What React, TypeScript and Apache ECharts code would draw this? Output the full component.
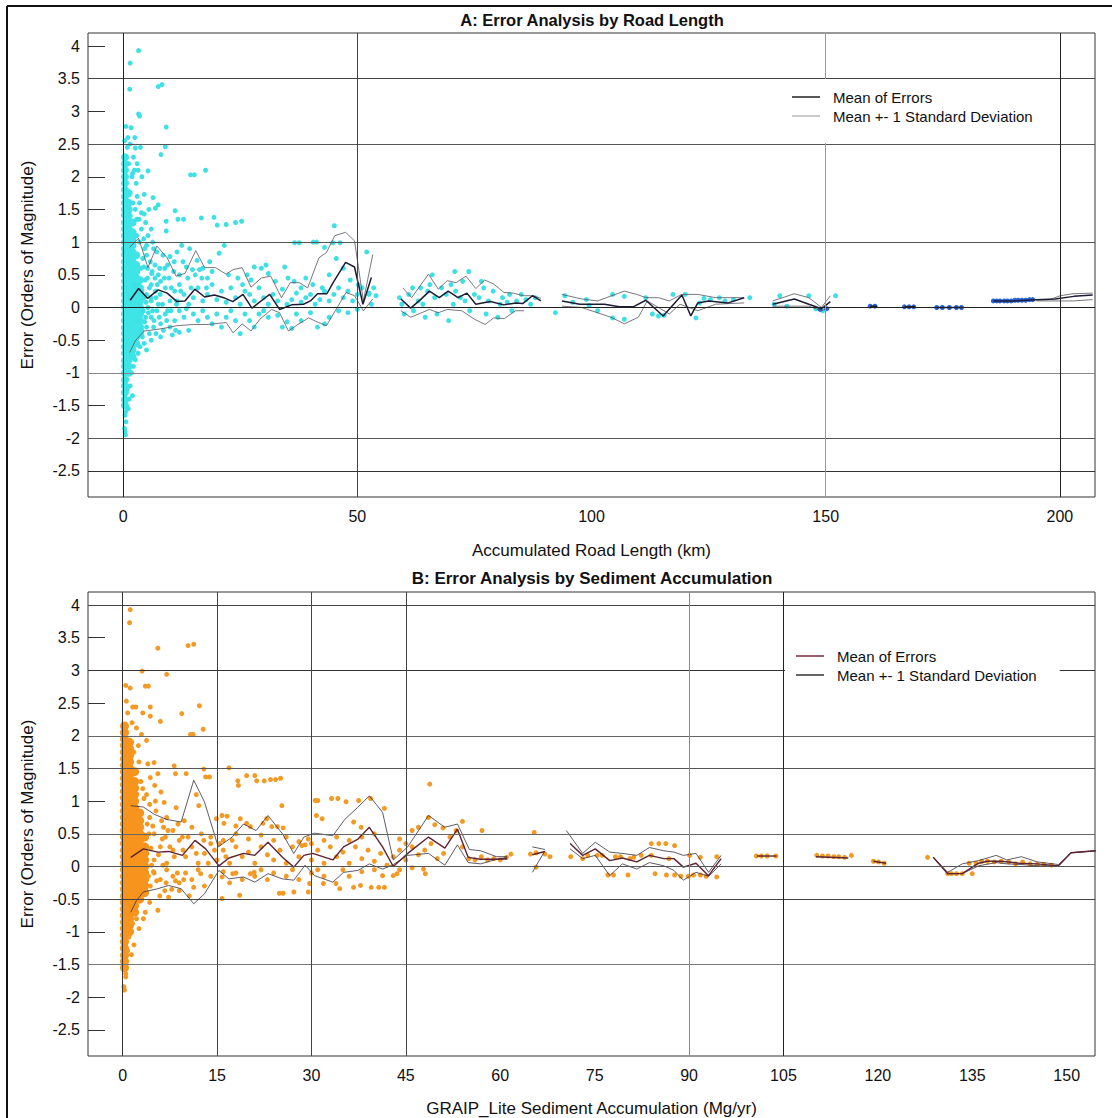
import React, { useEffect, useRef } from "react";
import * as echarts from "echarts";

const FONT = "'Liberation Sans', Arial, sans-serif";

// ---------- axes ----------
const xTicksA = [0, 50, 100, 150, 200];
const xTicksB = [0, 15, 30, 45, 60, 75, 90, 105, 120, 135, 150];
const yTicks = [-2.5, -2, -1.5, -1, -0.5, 0, 0.5, 1, 1.5, 2, 2.5, 3, 3.5, 4];

// reference lines drawn in each panel (axis values)
const hLinesA = [3.5, 2.5, 1, 0, -1, -2, -2.5];
const vLinesA = [0, 50, 150, 200];
const hLinesB = [4, 3, 2, 1.5, 0.5, 0, -0.5, -1.5];
const vLinesB = [0, 15, 30, 45, 90, 105];

// ---------- Panel A data (Accumulated road length km, error) ----------
const coreAX = [0.4, 1.2, 2.0, 2.8, 3.6];
const coreAY = [
  [-1.5, -1.41, -1.3, -1.2, -1.11, -1.0, -0.9, -0.81, -0.7, -0.6, -0.5, -0.4, -0.31, -0.2, -0.1, 0.0, 0.1, 0.2, 0.3, 0.4, 0.5, 0.6, 0.7, 0.81, 0.9, 1.0, 1.1, 1.2, 1.3, 1.41, 1.5, 1.6, 1.7, 1.8, 1.9, 2.0, 2.1, 2.2, 2.3],
  [-1.0, -0.9, -0.8, -0.7, -0.6, -0.5, -0.4, -0.3, -0.2, -0.1, 0.0, 0.1, 0.2, 0.3, 0.4, 0.5, 0.6, 0.7, 0.8, 0.9, 1.0, 1.1, 1.2, 1.3, 1.4, 1.5, 1.6, 1.75],
  [-0.75, -0.65, -0.55, -0.45, -0.35, -0.25, -0.15, -0.05, 0.05, 0.15, 0.25, 0.35, 0.45, 0.55, 0.65, 0.75, 0.85, 0.95, 1.05, 1.15, 1.3],
  [-0.55, -0.45, -0.35, -0.25, -0.15, -0.05, 0.05, 0.15, 0.25, 0.35, 0.45, 0.55, 0.65, 0.8],
  [-0.4, -0.3, -0.2, -0.1, 0.0, 0.1, 0.2, 0.3, 0.42],
];

const pointsA = [
  [1.5, 3.74], [3.3, 3.93], [1.4, 3.34], [3.3, 2.96], [3.5, 2.93], [0.6, 2.77], [1.7, 2.75], [7.5, 3.38], [8.3, 3.41],
  [9.2, 2.76], [9.0, 2.46], [8.1, 2.34], [1.5, 2.5], [3.7, 2.45], [2.6, 2.44], [5.3, 2.09], [14.4, 2.03], [15.2, 2.03],
  [17.6, 2.1], [4.5, 1.73], [6.4, 1.68], [7.5, 1.57], [11.1, 1.48], [11.7, 1.35], [12.9, 1.35], [16.7, 1.37], [19.4, 1.38],
  [20.1, 1.26], [22, 1.27], [24, 1.3], [25.3, 1.32], [45.1, 1.25], [4.5, 1.43], [9.2, 1.32], [9.2, 1.17], [6.9, 1.52],
  [3.0, 2.2], [2.2, 2.3], [4.0, 2.0], [2.8, 1.9], [3.5, 1.6], [5.5, 1.5], [4.8, 1.3], [6.0, 1.2], [3.2, 2.1], [2.5, 2.6],
  [1.0, 2.6], [1.2, 2.2], [0.9, 2.45], [0.3, 2.55], [2.0, 2.05], [3.0, 1.7], [3.9, 1.45], [2.9, 1.35],
  [3.5, 1.0], [5.0, 0.95], [6.5, 0.9], [7.2, 0.85], [8.5, 0.8], [10, 0.78], [11.5, 0.85], [12.5, 0.95], [14.2, 0.9],
  [15.8, 0.72], [17, 0.6], [18.5, 0.7], [20.5, 0.83], [21.6, 0.95], [4.2, 0.75], [5.8, 0.7], [7.8, 0.6], [9.5, 0.65],
  [10.8, 0.55], [12, 0.5], [13.5, 0.62], [14.8, 0.58], [16.3, 0.58], [18, 0.45], [19, 0.55], [22.5, 0.5], [24.5, 0.45],
  [26.5, 0.5], [28, 0.62], [29.5, 0.6], [30.5, 0.65], [25.5, 0.35], [27.3, 0.42], [31, 0.52], [32.5, 0.4], [34.5, 0.62],
  [36.6, 0.99], [37.6, 0.99], [40.6, 1.0], [41.3, 1.0], [43, 0.92], [44.8, 0.99], [46.3, 0.99], [35.2, 0.45], [36.5, 0.4],
  [38, 0.3], [39, 0.45], [40.5, 0.35], [42.5, 0.3], [44, 0.5], [45.5, 0.75], [47, 0.6], [48.5, 0.42], [50.2, 0.35],
  [52, 0.85], [53.5, 0.3], [52.5, 0.2], [54, 0.18], [7.5, 0.5], [6.2, 0.55], [8.8, 0.45], [5.2, 0.6],
  [3, 0.3], [4, 0.25], [5, 0.2], [6, 0.35], [7, 0.15], [8, 0.4], [9, 0.3], [10, 0.1], [11, 0.25], [12, 0.35], [13, 0.2],
  [14, 0.05], [15, 0.15], [16, 0.3], [17, 0.1], [18, 0.2], [19, 0.35], [20, 0.12], [21, 0.25], [22, 0.08], [23, 0.3],
  [24, 0.15], [25, 0.05], [26, 0.25], [27, 0.2], [28, 0.1], [29, 0.3], [30, 0.15], [31, 0.05], [32, 0.2], [33, 0.1],
  [34, 0.28], [35, 0.05], [36, 0.12], [37, 0.22], [38, 0.08], [39, 0.15], [40, 0.2], [41, 0.05], [42, 0.12], [43, 0.25],
  [44, 0.1], [45, 0.2], [46, 0.3], [47, 0.15], [48, 0.25], [49, 0.1], [50, 0.2], [51, 0.3], [52.5, 0.22], [53, 0.05],
  [3, -0.2], [4, -0.35], [5, -0.3], [6, -0.15], [7, -0.4], [8, -0.25], [9, -0.1], [10, -0.3], [11, -0.2], [12, -0.05],
  [13, -0.15], [14, -0.35], [15, -0.1], [16, -0.2], [17, -0.05], [18, -0.15], [19, -0.25], [20, -0.1], [21, -0.3],
  [22, -0.15], [23, -0.05], [24, -0.2], [25, -0.4], [26, -0.1], [27, -0.2], [28, -0.3], [29, -0.1], [30, -0.05],
  [31, -0.15], [33, -0.12], [34, -0.3], [35, -0.22], [36, -0.32], [37, -0.1], [38, -0.2], [40, -0.08], [41.5, -0.3],
  [43, -0.25], [44, -0.15], [46, -0.05], [48, -0.08], [50, -0.03], [4.5, -0.55], [6, -0.5], [5, -0.65], [8, -0.45],
  [10.5, -0.42], [12, -0.38], [7.5, 0.05], [9.5, -0.05], [11.5, 0.1], [13.5, -0.02],
  [2.5, 0.35], [3.8, 0.6], [4.6, 0.9], [5.2, 0.45], [5.9, 0.15], [6.3, -0.05], [6.8, 0.65], [7.3, 0.35], [7.9, 0.2],
  [8.4, 0.05], [8.9, 0.6], [9.8, 0.45], [10.3, 0.3], [10.9, 0.7], [11.4, 0.05], [12.3, 0.25], [12.8, 0.7], [13.8, 0.45],
  [14.5, 0.3], [15.4, 0.5], [16.8, 0.45], [17.8, 0.3], [4.8, -0.15], [5.6, -0.4], [6.5, -0.3], [7.7, -0.15], [8.6, -0.35],
  [9.3, -0.2], [10.2, -0.05], [11.2, -0.35], [3.6, -0.6], [4.1, -0.45], [2.9, 1.1], [3.9, 1.2], [4.4, 1.05], [5.3, 1.1],
  [6.3, 1.0], [3.4, 1.35], [2.6, 1.5], [2.1, 1.6], [1.9, 2.0], [2.4, 2.1],
  [4.6, -0.22], [4.9, 0.08], [4.7, 0.42], [5.4, -0.08], [5.6, 0.3], [6.1, 0.52], [6.6, -0.2], [6.9, 0.25], [7.2, -0.05],
  [4.4, 0.62], [5.0, 0.8], [4.3, -0.05], [4.5, 0.15], [5.3, 0.0], [6.0, 0.1], [6.8, 0.45],
  [0.5, -1.6], [0.8, -1.1], [0.4, -1.65], [0.9, -1.25], [0.6, -1.75], [0.3, -1.85], [0.5, -1.95], [0.4, -1.9],
  [1.3, -1.4], [1.5, -1.2], [1.8, -1.0], [2.2, -0.9], [2.6, -0.8], [3.2, -0.7], [2.0, -1.35], [1.1, -1.55],
  [59, 0.15], [59.5, 0.05], [60, -0.1], [61, 0.2], [62, -0.05], [63, 0.1], [63.5, 0.3], [64, 0.05], [65, 0.25],
  [65.5, 0.35], [66, 0.5], [66.5, 0.15], [67, -0.1], [68, 0.3], [69, 0.2], [70, 0.35], [70.5, 0.05], [71, 0.25],
  [72, 0.15], [72.5, 0.4], [73, 0.1], [74, -0.05], [75, 0.2], [76, 0.15], [77, 0.3], [77.5, -0.1], [78, 0.1],
  [79, 0.25], [80, -0.15], [80.5, 0.05], [81, 0.15], [82, 0.08], [83, -0.05], [84, 0.1], [85, 0.2], [86, 0.12],
  [87, 0.05], [88, 0.15], [70.8, 0.55], [73.8, 0.55], [61.8, 0.3], [64.5, -0.15], [69.5, -0.2], [76.5, 0.4], [82.5, 0.2],
  [92.3, -0.08], [94.3, 0.18], [98.9, 0.12], [101.3, -0.05], [104.5, 0.2], [107, 0.17], [104.5, -0.16], [107, -0.18],
  [111.6, 0.15], [114.3, -0.13], [117.4, 0.2], [120, 0.2], [122.3, -0.16], [123.1, 0.07], [125.4, 0.12], [127.3, 0.15],
  [130.3, 0.12], [133.8, 0.15], [139, 0.05], [140.2, 0.18], [141.7, 0.02], [146.4, 0.18], [147.9, -0.02], [149.4, -0.05],
  [152.1, 0.18], [96, 0.08], [99.5, 0.03], [113, -0.1], [115.5, -0.12], [124, 0.14], [128.5, 0.1],
];

const pointsABlue = [
  [159.5, 0.02], [160.5, 0.02], [166.8, 0.01], [167.8, 0.01], [168.8, 0.01], [173.7, 0.0], [174.9, 0.0], [176.4, 0.0],
  [177.9, 0.0], [179, 0.0], [185.8, 0.1], [186.5, 0.1], [187.2, 0.1], [188.1, 0.1], [188.8, 0.1], [189.6, 0.1],
  [190.4, 0.11], [191.1, 0.11], [191.9, 0.11], [192.7, 0.11], [193.5, 0.12], [194.2, 0.12], [148.8, -0.03], [150.2, -0.02],
];

const meanA = [
  [[1.5, 0.11], [3.3, 0.29], [5.2, 0.14], [7.5, 0.27], [9.4, 0.22], [11.5, 0.09], [13.2, 0.1], [15.3, 0.28], [17.4, 0.16], [19.5, 0.19], [21.5, 0.15], [23.4, 0.09], [25.6, 0.2], [27.5, -0.01], [30, 0.13], [31.3, 0.2], [33.4, -0.03], [36, 0.04], [38.5, 0.05], [40, 0.1], [41.5, 0.21], [43.5, 0.21], [45, 0.4], [47.5, 0.69], [49.4, 0.62], [51.2, 0.05], [53, 0.46]],
  [[59.3, 0.13], [61.4, -0.01], [63.5, 0.12], [65.4, 0.25], [67.5, 0.15], [69.4, 0.25], [71.5, 0.15], [73.4, 0.22], [75.3, 0.05], [78.4, 0.09], [81.3, 0.04], [83.8, 0.07], [85.3, 0.06], [87.4, 0.18], [89.2, 0.1]],
  [[93.7, 0.1], [97.5, 0.05], [102.8, 0.05], [105.9, 0.01], [108.9, 0.01], [111.6, 0.11], [115.3, -0.13], [119.3, 0.19], [121.2, -0.13], [122.7, 0.07], [125, 0.1], [129.2, 0.07], [132.6, 0.15]],
  [[138.7, 0.05], [143.3, 0.13], [146.4, 0.05], [149.1, -0.02], [151, 0.09]],
  [[159.5, 0.02], [161, 0.02]],
  [[166.8, 0.01], [169.1, 0.01]],
  [[173.7, 0.0], [179, 0.0]],
  [[185.8, 0.1], [190, 0.1], [195, 0.12], [199, 0.13], [203, 0.17], [207, 0.19]],
];

const upperA = [
  [[1.4, 0.92], [3.3, 1.06], [5.3, 0.61], [7.2, 0.94], [9.4, 0.76], [11.3, 0.48], [13.2, 0.52], [15.5, 0.87], [17.4, 0.61], [19.7, 0.61], [22, 0.51], [23.5, 0.58], [25.4, 0.61], [27.3, 0.31], [29.5, 0.45], [31.5, 0.48], [33.8, 0.15], [35.7, 0.38], [37.6, 0.38], [39.4, 0.3], [41.8, 0.76], [43.4, 0.84], [45.2, 1.1], [47.5, 1.15], [49.4, 1.02], [51.3, 0.1], [53.3, 0.81]],
  [[59.7, 0.3], [61.6, 0.15], [65.2, 0.51], [67.3, 0.28], [69.2, 0.41], [71.1, 0.38], [73.2, 0.48], [75.3, 0.29], [77.2, 0.42], [79.1, 0.36], [81.3, 0.23], [83.3, 0.22], [85.4, 0.18], [87.4, 0.18], [89.2, 0.14]],
  [[93.7, 0.2], [97.9, 0.13], [101.3, 0.1], [107, 0.25], [109.7, 0.2], [111.6, 0.15], [114.3, 0.15], [116.6, 0.1], [119.3, 0.2], [122.7, 0.2], [126.5, 0.15], [132.6, 0.15]],
  [[138.7, 0.1], [143.3, 0.21], [146.4, 0.15], [149.1, 0.0], [151, 0.18]],
  [[195, 0.12], [197.8, 0.12], [200.1, 0.18], [202.8, 0.21], [207, 0.22]],
];

const lowerA = [
  [[1.4, -0.69], [2.6, -0.51], [4.5, -0.36], [6.8, -0.34], [9.4, -0.31], [11.3, -0.28], [15.1, -0.26], [18.2, -0.26], [22, -0.23], [23.5, -0.39], [25.4, -0.25], [27.3, -0.36], [29.2, -0.18], [31.7, -0.03], [33.4, -0.08], [35.3, -0.36], [37.3, -0.26], [39.6, -0.16], [41.1, -0.21], [43.4, -0.28], [45.3, -0.05], [47.6, 0.23], [49.4, 0.18], [51.3, -0.05], [53.3, 0.13]],
  [[59.3, -0.05], [61.4, -0.15], [65.4, -0.03], [67.3, -0.08], [69.2, -0.03], [72.3, -0.05], [75, -0.18], [77.3, -0.26], [79.1, -0.16], [81.4, -0.17], [83.8, -0.05], [85.6, -0.05]],
  [[93.7, 0.02], [97.9, 0.0], [104.2, -0.15], [107, -0.25], [110, -0.15], [111.9, 0.1], [114.3, 0.0], [116.6, -0.1], [118.9, 0.05], [122.7, -0.05], [126.5, 0.05], [132.6, 0.07]],
  [[138.7, 0.02], [143.3, 0.02], [146.4, 0.02], [149.1, -0.05], [151, 0.0]],
  [[195, 0.1], [197.8, 0.1], [200.1, 0.1], [202.8, 0.1], [207, 0.12]],
];

// ---------- Panel B data (sediment accumulation Mg/yr, error) ----------
const coreBX = [0.3, 1.1, 1.9, 2.7, 3.5];
const coreBY = [
  [-1.55, -1.45, -1.36, -1.25, -1.15, -1.05, -0.95, -0.85, -0.75, -0.65, -0.55, -0.45, -0.35, -0.25, -0.15, -0.05, 0.05, 0.15, 0.25, 0.35, 0.45, 0.55, 0.65, 0.75, 0.85, 0.95, 1.05, 1.15, 1.25, 1.35, 1.45, 1.55, 1.65, 1.75, 1.85, 1.95, 2.05, 2.15],
  [-1.0, -0.9, -0.8, -0.7, -0.6, -0.5, -0.4, -0.3, -0.2, -0.1, 0.0, 0.1, 0.2, 0.3, 0.4, 0.5, 0.6, 0.7, 0.8, 0.9, 1.0, 1.1, 1.2, 1.3, 1.4, 1.5, 1.6, 1.7, 1.8, 1.9],
  [-0.7, -0.6, -0.5, -0.4, -0.3, -0.2, -0.1, 0.0, 0.1, 0.2, 0.3, 0.4, 0.5, 0.6, 0.7, 0.8, 0.9, 1.0, 1.1, 1.2, 1.3, 1.45],
  [-0.5, -0.4, -0.3, -0.2, -0.1, 0.0, 0.1, 0.2, 0.3, 0.4, 0.5, 0.6, 0.7, 0.82],
  [-0.4, -0.3, -0.2, -0.1, 0.0, 0.1, 0.2, 0.3, 0.45],
];

const pointsB = [
  [1.2, 3.93], [1.1, 3.73], [5.6, 3.34], [10.4, 3.38], [11.3, 3.4], [3.1, 2.99], [7.0, 2.94], [3.6, 2.76], [4.1, 2.76],
  [0.5, 2.77], [1.2, 2.73], [0.6, 2.53], [1.6, 2.44], [2.1, 2.44], [4.4, 2.44], [12.2, 2.46], [3.2, 2.35], [4.4, 2.3],
  [9.4, 2.34], [6.0, 2.22], [10.8, 2.02], [11.2, 2.02], [12.8, 2.1], [3.8, 1.93], [2.2, 2.12], [3.0, 2.02], [5.0, 1.59],
  [5.6, 1.42], [8.2, 1.54], [8.4, 1.42], [10.1, 1.42], [12.9, 1.49], [13.2, 1.37], [13.8, 1.37], [16.9, 1.51],
  [18.3, 1.31], [18.4, 1.24], [19.7, 1.39], [21, 1.39], [21.3, 1.31], [22.5, 1.31], [23.5, 1.33], [24.3, 1.33],
  [25.1, 1.35], [25.3, 0.93], [48.8, 1.26], [4.0, 1.57], [4.4, 1.36], [5.1, 1.24], [3.2, 1.19], [3.4, 1.04], [6.1, 1.14],
  [6.6, 0.98], [11.7, 1.1], [12.1, 0.93], [30.6, 1.01], [31, 1.01], [33.2, 1.04], [34.2, 1.04], [35.5, 0.99], [37.5, 1.01],
  [39.4, 1.04], [41.6, 0.89], [30.8, 0.78], [31.7, 0.73], [36.7, 0.68], [37.9, 0.6], [48.6, 0.75], [49.6, 0.64],
  [50.9, 0.59], [54, 0.69], [57.1, 0.55], [65.4, 0.52], [14.9, 0.73], [15.8, 0.78], [16.6, 0.77], [16.1, 0.66],
  [18.0, 0.62], [18.7, 0.73], [19.7, 0.66], [20.3, 0.61], [22.3, 0.66], [22.9, 0.73], [23.7, 0.61], [24.6, 0.61],
  [25.5, 0.59], [2.6, 1.6], [1.8, 1.75], [2.5, 1.85], [1.5, 2.2], [0.8, 2.35],
  [5, 0.1], [6, 0.3], [7, 0.05], [8, 0.25], [9, 0.4], [10, 0.15], [11, 0.3], [12, 0.05], [13, 0.2], [14, 0.35], [15, 0.1],
  [16, 0.25], [17, 0.05], [18, 0.3], [19, 0.15], [20, 0.22], [21, 0.05], [22, 0.3], [23, 0.18], [24, 0.1], [25, 0.25],
  [26, 0.05], [27, 0.3], [28, 0.15], [29, 0.33], [30, 0.1], [31, 0.25], [32, 0.05], [33, 0.3], [34, 0.15], [35, 0.22],
  [36, 0.05], [37, 0.3], [38, 0.12], [39, 0.25], [40, 0.08], [41, 0.2], [42, 0.02], [43, 0.15], [44, 0.25], [45, 0.1],
  [46, 0.3], [47, 0.18], [48, 0.25], [49, 0.35], [50, 0.12], [51, 0.2], [52, 0.45], [53, 0.55], [54, 0.3], [55, 0.12],
  [56, 0.1], [57, 0.15], [58, 0.1], [59, 0.12], [60, 0.1], [61, 0.14],
  [5, -0.1], [6, -0.2], [7, -0.05], [8, -0.15], [9, -0.25], [10, -0.1], [11, -0.2], [12, -0.05], [13, -0.3], [14, -0.15],
  [16, -0.08], [17, -0.25], [18, -0.1], [19, -0.2], [21, -0.15], [22, -0.05], [23, -0.2], [24, -0.1], [26, -0.15],
  [27, -0.05], [28, -0.2], [30, -0.1], [31, -0.05], [32, -0.15], [35, -0.05], [36, -0.15], [38, -0.08], [40, -0.05],
  [44, -0.05], [46, -0.02],
  [5, 0.5], [6.5, 0.6], [8, 0.55], [9.5, 0.45], [11, 0.6], [12.5, 0.5], [14, 0.45], [16, 0.4], [18, 0.5], [20, 0.42],
  [22, 0.48], [24, 0.4], [26, 0.45], [28, 0.38], [29.5, 0.42], [28.5, 0.32], [30, 0.35], [32, 0.4], [34, 0.45],
  [36, 0.4], [38, 0.45], [40, 0.5], [44, 0.42], [46, 0.55], [47, 0.6], [45, 0.35], [7, 0.75], [8.5, 0.9], [9.8, 0.7],
  [2.9, 1.3], [3.8, 1.1], [4.3, 0.95], [5.3, 0.85], [6.2, 0.7], [6.8, 0.45], [7.5, 0.3], [8.2, 0.15], [8.8, 0.65],
  [9.6, 0.25], [10.4, 0.45], [11.7, 0.2], [12.9, 0.4], [13.6, 0.05], [14.6, 0.25], [15.4, 0.35], [16.4, 0.15], [17.4, 0.4],
  [5.9, -0.45], [6.9, -0.25], [7.8, -0.35], [8.7, -0.1], [9.7, -0.2], [10.6, -0.45], [4.3, -0.55], [3.6, -0.7],
  [2.6, -0.95], [1.8, -1.2], [1.4, -1.35],
  [4.4, -0.3], [4.6, 0.02], [4.5, 0.28], [4.8, 0.62], [5.4, -0.22], [5.7, 0.18], [6.4, 0.02], [6.3, 0.42], [4.2, 0.5],
  [4.3, 0.75], [5.2, 1.0], [4.9, -0.08], [7.2, 0.55], [3.9, 0.65], [4.1, -0.15],
  [15.8, -0.49], [18.6, -0.44], [24.9, -0.41], [25.5, -0.41], [27.2, -0.39], [29.5, -0.39], [29.7, -0.26], [31.9, -0.26],
  [33.9, -0.26], [34.5, -0.34], [36.7, -0.32], [37.8, -0.29], [39.5, -0.32], [40.7, -0.32], [41.6, -0.32], [41.3, -0.14],
  [43, -0.14], [43.6, -0.11], [5.6, -0.67], [3.3, -0.8], [1.0, -1.08], [0.8, -1.29], [0.5, -1.49], [0.5, -1.64],
  [0.2, -1.84], [0.3, -1.89], [0.5, -1.69], [1.6, -0.87], [2.2, -0.8], [20.3, -0.11], [20.9, -0.09], [15.8, -0.16],
  [17.5, -0.11], [12.4, -0.11], [11.3, -0.32], [9, -0.37], [8.4, -0.22], [7.3, -0.47], [6.7, -0.37], [48.1, -0.11],
  [47.8, -0.04],
  [61.7, 0.19], [64.8, 0.19], [65.7, 0.21], [67.1, 0.19], [65.7, -0.01],
  [67.9, 0.15], [71.2, 0.15], [73.1, 0.12], [73.9, 0.17], [75.4, 0.17], [76.2, 0.17], [77.1, -0.13], [78, -0.13],
  [78.3, 0.15], [79.1, 0.15], [80.3, -0.13], [80.6, 0.12], [81.2, 0.14], [82.4, 0.17], [84, 0.35], [85.2, 0.35],
  [86.3, 0.35], [87.7, 0.32], [84.6, -0.11], [86.4, -0.13], [87.7, -0.13], [88.7, -0.15], [89.9, -0.15], [90.7, -0.13],
  [91.8, -0.13], [92.7, -0.15], [94.4, -0.16], [94.4, 0.15], [90.1, 0.17], [91.8, 0.14], [84, 0.17], [86.8, 0.12],
  [100.7, 0.16], [101.5, 0.16], [102.4, 0.16], [103.8, 0.16], [110.3, 0.17], [111.2, 0.16], [112.1, 0.16], [113, 0.15],
  [113.8, 0.15], [114.7, 0.14], [115.8, 0.17], [119.3, 0.08], [120.1, 0.07], [121, 0.05], [127.9, 0.14], [131.1, -0.11],
  [131.7, -0.11], [132.5, -0.11], [133.4, -0.11], [134.5, 0.05], [135, -0.11], [135.6, 0.05], [136.5, 0.08],
  [137.4, 0.08], [138.5, 0.07], [139.6, 0.08], [140.8, 0.07], [141.9, 0.04], [143, 0.07], [144.2, 0.04], [145.3, 0.03],
  [146.4, 0.03], [147.6, 0.02],
];

const meanB = [
  [[1.3, 0.14], [3.3, 0.27], [5.6, 0.22], [7.3, 0.23], [9.5, 0.17], [11.5, 0.4], [13.2, 0.27], [15.3, 0.01], [16.9, 0.13], [19.2, 0.2], [21, 0.17], [23.1, 0.37], [25.4, 0.14], [27.2, -0.01], [28.8, 0.17], [30.2, 0.2], [33.4, 0.1], [35.1, 0.3], [37.4, 0.42], [39.2, 0.6], [41.3, 0.3], [43, 0.0], [45.3, 0.2], [48.6, 0.45], [51.2, 0.28], [53.2, 0.57], [54.9, 0.14], [56.9, 0.11], [59.4, 0.11], [61.1, 0.13]],
  [[65.1, 0.18], [67.1, 0.23]],
  [[71.1, 0.35], [73.1, 0.17], [75.1, 0.27], [77.4, 0.09], [79.4, 0.13], [81.7, 0.07], [83.7, 0.17], [86, 0.12], [87.6, 0.12], [89.1, -0.01], [91.1, 0.05], [93.1, -0.14], [95.1, 0.12]],
  [[100.8, 0.16], [103.9, 0.16]],
  [[110.2, 0.15], [115.3, 0.13]],
  [[119.3, 0.08], [121.3, 0.05]],
  [[128.8, 0.14], [131.1, -0.11], [133.4, -0.11], [136, 0.05], [137.4, 0.08], [139.6, 0.08], [142.5, 0.05], [145.3, 0.04], [148.7, 0.01], [150.7, 0.21], [154.6, 0.24]],
];

const upperB = [
  [[1.3, 0.93], [3.3, 0.91], [5, 0.8], [7, 0.72], [9.3, 0.68], [11.3, 1.32], [13, 0.99], [15.2, 0.3], [17.4, 0.45], [19.2, 0.65], [21.2, 0.55], [23.1, 0.78], [25.4, 0.5], [27.2, 0.2], [28.8, 0.45], [30.5, 0.51], [33.4, 0.47], [35.3, 0.72], [37.3, 0.9], [39.2, 1.08], [41.3, 0.83], [43, 0.1], [45.3, 0.3], [48.6, 0.78], [51.2, 0.6], [53.2, 0.65], [55.1, 0.26], [56.9, 0.24], [59.4, 0.15], [61.1, 0.15]],
  [[65.1, 0.3], [67.1, 0.26]],
  [[70.5, 0.55], [73.1, 0.2], [75.1, 0.37], [77.4, 0.22], [79.4, 0.2], [81.7, 0.17], [83.7, 0.29], [86, 0.24], [87.6, 0.22], [89.1, 0.17], [91.1, 0.2], [93.1, -0.09], [95.1, 0.17]],
  [[128.8, 0.14], [131.1, -0.09], [133.4, 0.04], [136, 0.09], [138.8, 0.17], [140.5, 0.1], [142.8, 0.15], [145.3, 0.07], [148.7, 0.03], [150.7, 0.21], [154.6, 0.24]],
];

const lowerB = [
  [[1.3, -0.7], [2.2, -0.52], [3.3, -0.39], [5.6, -0.34], [7.3, -0.29], [9.3, -0.34], [11.3, -0.57], [13, -0.42], [15.3, -0.06], [16.9, -0.19], [19.2, -0.16], [21, -0.24], [23.1, -0.11], [25.4, -0.19], [27.2, -0.21], [29, 0.02], [30.5, -0.14], [33.4, -0.24], [35.1, -0.09], [37.4, -0.06], [39.2, 0.04], [41.3, -0.04], [43, 0.03], [45.3, 0.17], [48.6, 0.2], [51.2, 0.02], [53.2, 0.33], [54.9, 0.06], [56.9, 0.04], [59.4, 0.11], [61.1, 0.11]],
  [[65.1, -0.09], [67.1, 0.24]],
  [[71.1, 0.27], [73.1, 0.12], [75.1, 0.17], [77.4, -0.14], [79.4, 0.04], [81.7, -0.04], [83.7, 0.06], [86, 0.01], [87.6, -0.06], [89.1, -0.21], [91.1, -0.09], [93.1, -0.15], [95.1, 0.04]],
  [[128.8, 0.14], [131.1, -0.11], [133.4, -0.11], [136, 0.01], [138.8, 0.06], [140.5, 0.04], [142.8, 0.03], [145.3, 0.01], [148.7, 0.01], [150.7, 0.21], [154.6, 0.24]],
];

// ---------- option building ----------
const MEAN = "Mean of Errors";
const SD = "Mean +- 1 Standard Deviation";

const hColorsA = ["#444", "#555", "#555", "#222", "#888", "#555", "#333"];
const vColorsA = ["#222", "#444", "#999", "#222"];
const hColorsB = ["#444", "#333", "#666", "#555", "#666", "#555", "#444", "#777"];
const vColorsB = ["#333", "#444", "#444", "#444", "#888", "#222"];

function coreData(xs: number[], ys: number[][]) {
  const out: number[][] = [];
  xs.forEach((x, i) => ys[i].forEach((y) => out.push([x, y])));
  return out;
}

function refLines(idx: number, hs: number[], hc: string[], vs: number[], vc: string[]) {
  return {
    type: "line",
    name: "ref" + idx,
    xAxisIndex: idx,
    yAxisIndex: idx,
    data: [],
    z: 1,
    silent: true,
    markLine: {
      silent: true,
      symbol: ["none", "none"],
      label: { show: false },
      animation: false,
      data: [
        ...hs.map((v, i) => ({ yAxis: v, lineStyle: { color: hc[i], width: 1, type: "solid" } })),
        ...vs.map((v, i) => ({ xAxis: v, lineStyle: { color: vc[i], width: 1, type: "solid" } })),
      ],
    },
  };
}

function lineSeries(idx: number, name: string, segs: number[][][], color: string, width: number) {
  return segs.map((seg) => ({
    type: "line",
    name,
    xAxisIndex: idx,
    yAxisIndex: idx,
    data: seg,
    symbol: "none",
    showSymbol: false,
    z: 3,
    lineStyle: { color, width },
    itemStyle: { color },
  }));
}

function scatter(idx: number, name: string, data: number[][], color: string, size: number, z = 2) {
  return {
    type: "scatter",
    name,
    xAxisIndex: idx,
    yAxisIndex: idx,
    data,
    symbolSize: size,
    z,
    itemStyle: { color, opacity: 1 },
  };
}

const labelStyle = { fontSize: 16, color: "#111", fontFamily: FONT };
const nameStyle = { fontSize: 17, color: "#111", fontFamily: FONT };

function xAxis(idx: number, min: number, max: number, ticks: number[], name: string, gap: number) {
  return {
    gridIndex: idx,
    type: "value",
    min,
    max,
    axisLine: { show: false, onZero: false },
    axisTick: { show: false },
    splitLine: { show: false },
    axisLabel: { ...labelStyle, customValues: ticks, margin: 11 },
    name,
    nameLocation: "middle",
    nameGap: gap,
    nameTextStyle: nameStyle,
  };
}

function yAxis(idx: number) {
  return {
    gridIndex: idx,
    type: "value",
    min: -2.9,
    max: 4.2,
    axisLine: { show: false, onZero: false },
    axisTick: { show: true, inside: true, length: 17, customValues: yTicks, lineStyle: { color: "#333", width: 1 } },
    splitLine: { show: false },
    axisLabel: { ...labelStyle, customValues: yTicks, margin: 8 },
    name: "Error (Orders of Magnitude)",
    nameLocation: "middle",
    nameGap: 52,
    nameRotate: 90,
    nameTextStyle: nameStyle,
  };
}

function legend(left: number, top: number, padding: number[], meanColor: string, sdColor: string) {
  return {
    orient: "vertical",
    left,
    top,
    z: 10,
    padding,
    backgroundColor: "#ffffff",
    itemGap: 3,
    itemWidth: 28,
    itemHeight: 1.5,
    selectedMode: false,
    textStyle: { fontSize: 15, color: "#111", fontFamily: FONT, lineHeight: 16, padding: [0, 0, 0, 8] },
    data: [
      { name: MEAN, icon: "rect", itemStyle: { color: meanColor, borderWidth: 0 } },
      { name: SD, icon: "rect", itemStyle: { color: sdColor, borderWidth: 0 } },
    ],
  };
}

function buildOption() {
  const meanColA = "#1c1c34";
  const sdColA = "#555560";
  const meanColB = "#5e2433";
  const sdColB = "#3a3040";
  return {
    animation: false,
    backgroundColor: "#ffffff",
    grid: [
      { left: 88, top: 33, width: 1007, height: 464, show: true, borderColor: "#333", borderWidth: 1, backgroundColor: "transparent" },
      { left: 88, top: 592, width: 1007, height: 464, show: true, borderColor: "#333", borderWidth: 1, backgroundColor: "transparent" },
    ],
    xAxis: [
      xAxis(0, -7.5, 207.5, xTicksA, "Accumulated Road Length (km)", 45),
      xAxis(1, -5.5, 154.5, xTicksB, "GRAIP_Lite Sediment Accumulation (Mg/yr)", 44),
    ],
    yAxis: [yAxis(0), yAxis(1)],
    legend: [
      legend(779, 79, [10, 20, 19, 13], "#222", "#b8b8b8"),
      legend(785, 629, [19, 23, 28, 11], "#7a2a3c", "#333"),
    ],
    graphic: [
      { type: "line", shape: { x1: 7, y1: 6, x2: 1112, y2: 6 }, style: { stroke: "#111", lineWidth: 2 } },
      { type: "line", shape: { x1: 7, y1: 6, x2: 7, y2: 1118 }, style: { stroke: "#111", lineWidth: 2 } },
      {
        type: "text", x: 592, y: 20,
        style: { text: "A: Error Analysis by Road Length", fontSize: 16.5, fontWeight: "bold", fontFamily: FONT, fill: "#111", align: "center", verticalAlign: "middle" },
      },
      {
        type: "text", x: 592, y: 578,
        style: { text: "B: Error Analysis by Sediment Accumulation", fontSize: 17, fontWeight: "bold", fontFamily: FONT, fill: "#111", align: "center", verticalAlign: "middle" },
      },
    ],
    series: [
      refLines(0, hLinesA, hColorsA, vLinesA, vColorsA),
      refLines(1, hLinesB, hColorsB, vLinesB, vColorsB),
      scatter(0, "coreA", coreData(coreAX, coreAY), "#3fe4e6", 8),
      scatter(0, "ptsA", pointsA, "#3fe0e4", 5),
      scatter(0, "ptsABlue", pointsABlue, "#2a62d8", 5),
      scatter(1, "coreB", coreData(coreBX, coreBY), "#f7941d", 9),
      scatter(1, "ptsB", pointsB, "#f39a24", 5),
      ...lineSeries(0, SD, upperA, sdColA, 0.8),
      ...lineSeries(0, SD, lowerA, sdColA, 0.8),
      ...lineSeries(0, MEAN, meanA, meanColA, 1.5),
      ...lineSeries(1, SD, upperB, sdColB, 0.8),
      ...lineSeries(1, SD, lowerB, sdColB, 0.8),
      ...lineSeries(1, MEAN, meanB, meanColB, 1.4),
    ],
  };
}

export default function App() {
  const ref = useRef<HTMLDivElement>(null);
  useEffect(() => {
    if (!ref.current) return;
    const chart = echarts.init(ref.current, null, { renderer: "svg" });
    chart.setOption(buildOption() as any);
    return () => chart.dispose();
  }, []);
  return (
    <div
      ref={ref}
      style={{ position: "absolute", left: 0, top: 0, width: 1112, height: 1118, background: "#fff" }}
    />
  );
}
